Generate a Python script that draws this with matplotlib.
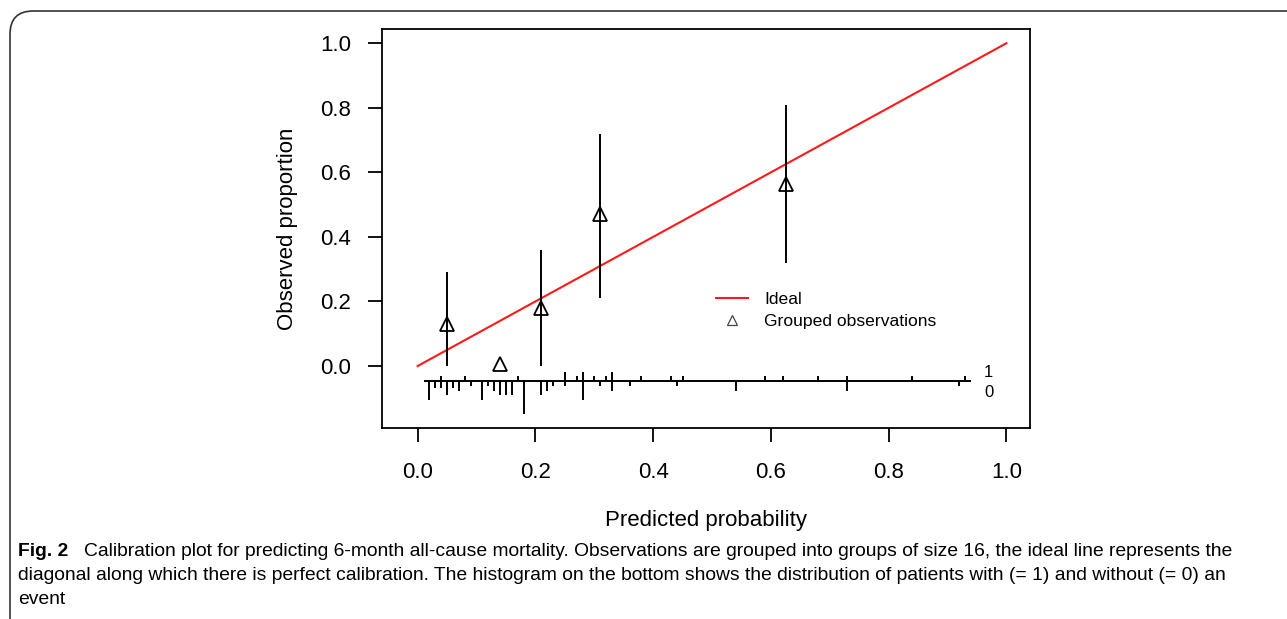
import matplotlib
matplotlib.use("Agg")
import matplotlib.pyplot as plt
from matplotlib.patches import FancyBboxPatch
from matplotlib.lines import Line2D

# ---------------- data ----------------
group_pred = [0.05, 0.14, 0.21, 0.31, 0.625]
group_obs = [0.13, 0.005, 0.18, 0.47, 0.565]
group_lo = [0.00, 0.00, 0.00, 0.21, 0.32]
group_hi = [0.29, 0.00, 0.36, 0.72, 0.81]

ideal_x = [0.0, 1.0]
ideal_y = [0.0, 1.0]

# spike histogram: events (=1) drawn upward
event_x = [0.04, 0.08, 0.17, 0.25, 0.27, 0.28, 0.30, 0.32, 0.33, 0.38, 0.43, 0.45,
           0.59, 0.62, 0.68, 0.73, 0.84, 0.93]
event_n = [1, 1, 1, 2, 1, 2, 1, 1, 2, 1, 1, 1,
           1, 1, 1, 1, 1, 1]
# non-events (=0) drawn downward
nonevent_x = [0.02, 0.03, 0.04, 0.05, 0.06, 0.07, 0.09, 0.11, 0.12, 0.13, 0.14, 0.15,
              0.16, 0.18, 0.21, 0.22, 0.23, 0.25, 0.28, 0.31, 0.33, 0.36, 0.44, 0.54,
              0.73, 0.92]
nonevent_n = [4, 1.5, 1.5, 3, 1.5, 2, 1, 4, 1, 2, 3, 3,
              3, 7, 3, 2, 1, 1, 4, 1, 2, 1, 1, 2,
              2, 1]
pred_range = [0.01, 0.94]

x_ticks = [0.0, 0.2, 0.4, 0.6, 0.8, 1.0]
y_ticks = [0.0, 0.2, 0.4, 0.6, 0.8, 1.0]

caption_bold = "Fig. 2"
caption_lines = [
    "Calibration plot for predicting 6-month all-cause mortality. Observations are grouped into groups of size 16, the ideal line represents the",
    "diagonal along which there is perfect calibration. The histogram on the bottom shows the distribution of patients with (= 1) and without (= 0) an",
    "event",
]

# ---------------- figure ----------------
W, H = 1287, 619
fig = plt.figure(figsize=(W / 100, H / 100), dpi=100)
plt.rcParams['font.family'] = ['Liberation Sans', 'DejaVu Sans']

def fx(px):
    return px / W

def fy(py):
    return 1 - py / H

# rounded frame
frame = FancyBboxPatch((fx(10), fy(700)), fx(1400), fy(11) - fy(700),
                       boxstyle="round,pad=0,rounding_size=0.018",
                       transform=fig.transFigure, fill=False,
                       edgecolor='#333333', linewidth=1.2, clip_on=False,
                       mutation_aspect=W / H)
fig.patches.append(frame)

ax = fig.add_axes([fx(382), fy(428.3), fx(1030) - fx(382), fy(29) - fy(428.3)])
ax.set_xlim(-0.0606, 1.040)
ax.set_ylim(-0.193, 1.044)

# ideal line
ax.plot(ideal_x, ideal_y, color='#ff1a1a', lw=1.5, zorder=3)

# error bars
ax.vlines(group_pred, group_lo, group_hi, color='black', lw=1.4, zorder=3)
# grouped observations
ax.plot(group_pred, group_obs, linestyle='none', marker='^', markersize=10,
        markerfacecolor='none', markeredgecolor='black', markeredgewidth=1.3, zorder=4)

# spike histogram
y0 = -0.047
unit = 0.0146
ax.hlines(y0, pred_range[0], pred_range[1], color='black', lw=1.4)
ax.vlines(event_x, y0, [y0 + n * unit for n in event_n], color='black', lw=1.4)
ax.vlines(nonevent_x, [y0 - n * unit for n in nonevent_n], y0, color='black', lw=1.4)
ax.text(0.962, y0 + 0.028, "1", fontsize=12, ha='left', va='center')
ax.text(0.962, y0 - 0.034, "0", fontsize=12, ha='left', va='center')

# axes styling (R-like)
for s in ax.spines.values():
    s.set_color('black')
    s.set_linewidth(1.3)
ax.set_xticks(x_ticks)
ax.set_yticks(y_ticks)
ax.set_xticklabels([f"{v:.1f}" for v in x_ticks])
ax.set_yticklabels([f"{v:.1f}" for v in y_ticks])
ax.tick_params(axis='both', direction='out', length=10, width=1.3, labelsize=16,
               color='black')
ax.tick_params(axis='x', pad=14)
ax.tick_params(axis='y', pad=12)
ax.set_xlabel("Predicted probability", fontsize=16, labelpad=20)
ax.set_ylabel("Observed proportion", fontsize=16, labelpad=16)

# legend
handles = [Line2D([], [], color='#ff1a1a', lw=1.5),
           Line2D([], [], linestyle='none', marker='^', markersize=7,
                  markerfacecolor='none', markeredgecolor='#444444', markeredgewidth=0.9)]
leg = ax.legend(handles, ["Ideal", "Grouped observations"], loc='upper left',
                bbox_to_anchor=(fx(716), fy(292)), bbox_transform=fig.transFigure,
                frameon=False, fontsize=12.6, handlelength=1.83, handletextpad=0.91,
                labelspacing=0.39, borderpad=0, borderaxespad=0)

# caption
cap_font = ['Liberation Sans', 'DejaVu Sans']
cap_size = 13.85
fig.text(fx(18), fy(552), caption_bold, fontsize=cap_size, fontweight='bold',
         family=cap_font, ha='left', va='center')
fig.text(fx(84), fy(552), caption_lines[0], fontsize=cap_size, family=cap_font,
         ha='left', va='center')
fig.text(fx(18), fy(576), caption_lines[1], fontsize=cap_size, family=cap_font,
         ha='left', va='center')
fig.text(fx(18), fy(600), caption_lines[2], fontsize=cap_size, family=cap_font,
         ha='left', va='center')

fig.savefig("out.png", dpi=100)
